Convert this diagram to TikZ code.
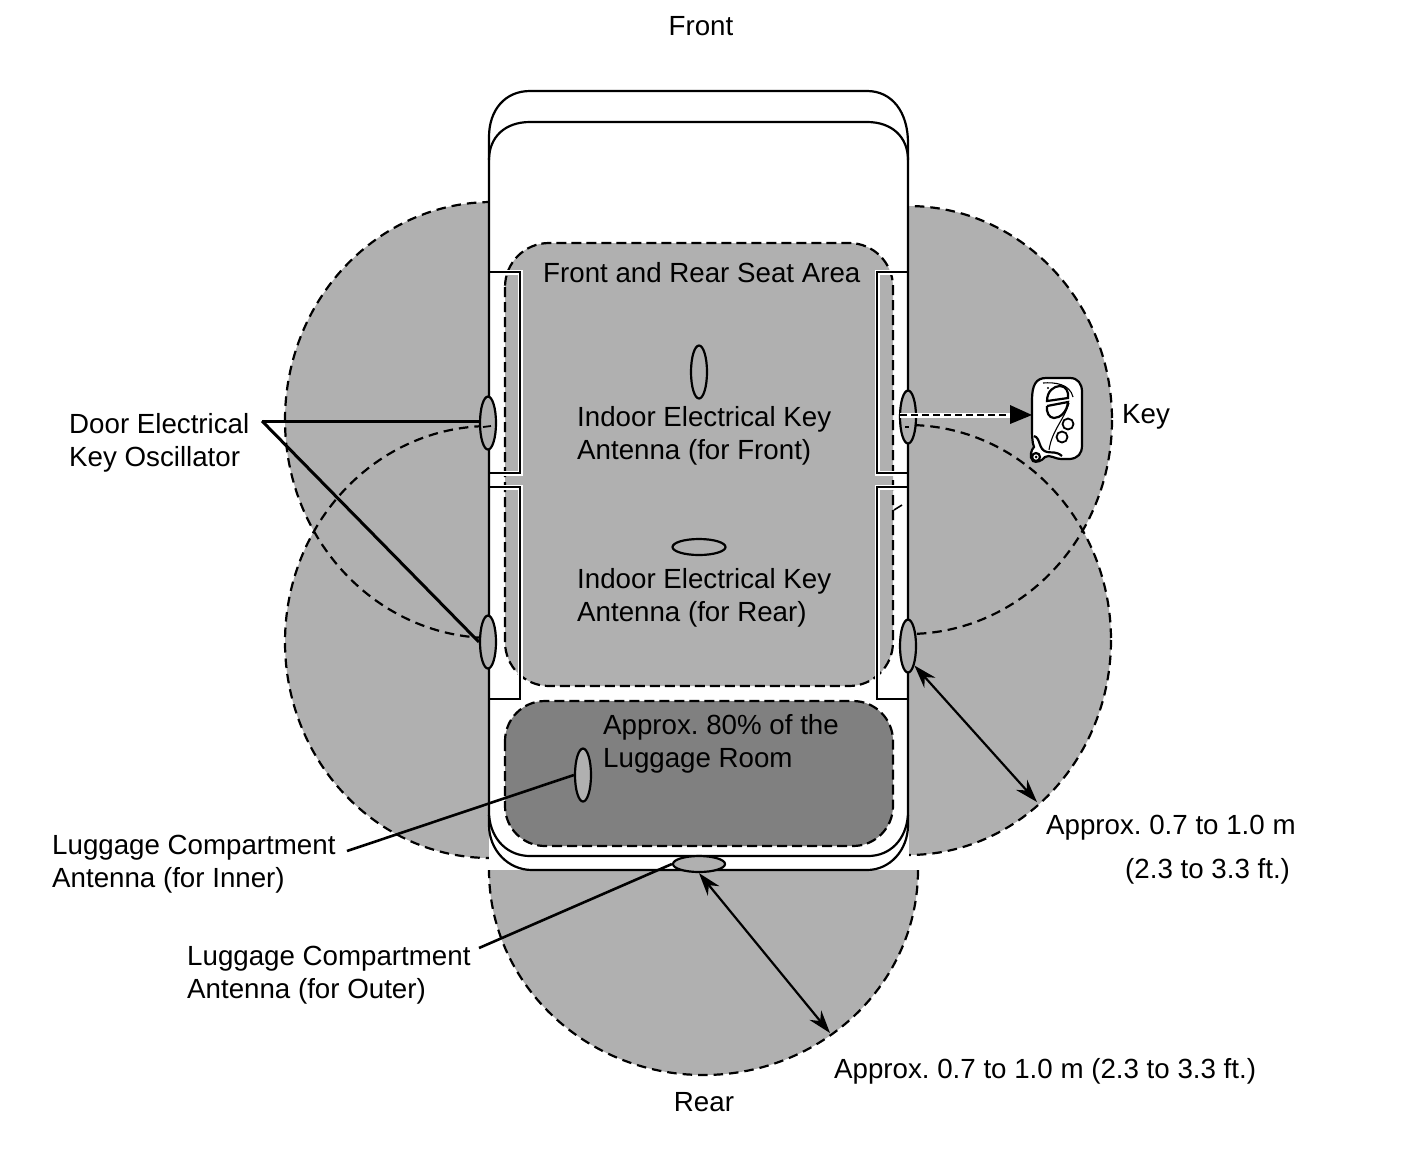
\documentclass[tikz,border=0pt]{standalone}
\usepackage{fontspec}
\setmainfont{Liberation Sans}
\usetikzlibrary{arrows.meta,shapes.geometric}
\definecolor{zone}{gray}{0.69}
\definecolor{deep}{gray}{0.5}
\tikzset{
  lobe/.style={fill=zone,draw=none},
  lobeedge/.style={draw=black,line width=2.2pt,dash pattern=on 9.5pt off 6pt},
  area/.style={draw=black,line width=2.2pt,dash pattern=on 10pt off 5pt},
  bodyline/.style={draw=black,line width=2.2pt},
  doorhalo/.style={draw=white,line width=5pt},
  doorline/.style={draw=black,line width=2.4pt},
  antenna/.style={shape=ellipse,draw=black,line width=2.2pt,fill=zone,inner sep=0pt,minimum width=#1},
  vert/.style={antenna=16pt,minimum height=53pt},
  horiz/.style={antenna=53pt,minimum height=16pt},
  lbl/.style={inner sep=0pt,anchor=west,align=left,font=\fontsize{27.7}{33}\selectfont\frenchspacing,text=black},
  clbl/.style={inner sep=0pt,anchor=center,font=\fontsize{27.7}{33}\selectfont,text=black},
  leader/.style={draw=black,line width=3pt},
  dimhalo/.style={draw=none,white,line width=0pt,
    {Stealth[length=29pt,width=22pt,white]}-{Stealth[length=29pt,width=22pt,white]}},
  dimline/.style={draw=black,line width=2.2pt,
    {Stealth[length=23pt,width=15pt,black]}-{Stealth[length=23pt,width=15pt,black]}},
  fob/.style={draw=black,line width=2.2pt,fill=white},
  fobthin/.style={draw=black,line width=1.1pt},
}
\begin{document}
\begin{tikzpicture}[x=1pt,y=-1pt]
\useasboundingbox (0,0) rectangle (1424,1160);
% gray reach zones
\fill[lobe] (492,420) ellipse [x radius=207,y radius=218];
\fill[lobe] (490,642) ellipse [x radius=205,y radius=216];
\fill[lobe] (908,420) ellipse [x radius=204,y radius=214];
\fill[lobe] (908,640) ellipse [x radius=203,y radius=215];
% dashed outlines of the zones
\begin{scope}
  \clip (0,0) rectangle (491,1160);
  \draw[lobeedge] (492,420) ellipse [x radius=207,y radius=218];
  \draw[lobeedge] (490,642) ellipse [x radius=205,y radius=216];
\end{scope}
\begin{scope}
  \clip (906,0) rectangle (1424,1160);
  \draw[lobeedge] (908,420) ellipse [x radius=204,y radius=214];
  \draw[lobeedge] (908,640) ellipse [x radius=203,y radius=215];
\end{scope}
% car body fill
\fill[white] (489,90) rectangle (909,870);
% rear zone
\fill[lobe] (489,870) -- (918,870) arc [start angle=0,end angle=180,x radius=214.5,y radius=205] -- cycle;
\draw[lobeedge] (918,870) arc [start angle=0,end angle=180,x radius=214.5,y radius=205];
% seat area and luggage area
\draw[area,fill=zone,rounded corners=44pt] (505,243) rectangle (893,686);
\draw[area,fill=deep,rounded corners=40pt] (505,701) rectangle (893,846);
% doors
\draw[doorhalo] (491,272) -- (520,272) -- (520,473) -- (491,473);
\draw[doorhalo] (491,487) -- (520,487) -- (520,699) -- (491,699);
\draw[doorhalo] (906,272) -- (877,272) -- (877,473) -- (906,473);
\draw[doorhalo] (906,487) -- (877,487) -- (877,699) -- (906,699);
\draw[doorline] (489,272) -- (520,272) -- (520,473) -- (489,473);
\draw[doorline] (489,487) -- (520,487) -- (520,699) -- (489,699);
\draw[doorline] (908,272) -- (877,272) -- (877,473) -- (908,473);
\draw[doorline] (908,487) -- (877,487) -- (877,699) -- (908,699);
\draw[line width=1.6pt] (894,510) -- (902,505);
% car body outline
\draw[bodyline] (489,825) -- (489,137) .. controls (489,110) and (505,91) .. (530,91) -- (867,91)
  .. controls (892,91) and (908,112) .. (908,143) -- (908,825)
  .. controls (908,850) and (890,870) .. (867,870) -- (532,870)
  .. controls (508,870) and (489,850) .. (489,825);
\draw[bodyline] (489,160) .. controls (489,137) and (505,122) .. (530,122) -- (867,122)
  .. controls (892,122) and (908,137) .. (908,160);
\draw[bodyline] (489,815) .. controls (491,840) and (508,856) .. (530,856) -- (868,856)
  .. controls (890,856) and (906,840) .. (908,815);
% antennas
\node[vert] (frontant) at (699,372) {};
\node[horiz] (rearant) at (699,547) {};
\node[vert] (lugin) at (583,775) {};
\node[horiz,minimum width=52pt] (lugout) at (699,864) {};
\node[vert] (doorfl) at (488,423) {};
\node[vert] (doorrl) at (488,642) {};
\node[vert] (doorfr) at (908,417) {};
\node[vert] (doorrr) at (908,646) {};
% dashes that continue through the door oscillators
\draw[line width=1.8pt] (483,427) -- (491,426);
\draw[line width=1.8pt] (905,427) -- (909,427);
% labels
\node[clbl] (front) at (701,26) {Front};
\node[clbl] (rear) at (704,1102) {Rear};
\node[lbl] (door) at (69,442.5) {Door Electrical\\Key Oscillator};
\node[lbl] (seat) at (543,273) {Front and Rear Seat Area};
\node[lbl] (ifront) at (577,436) {Indoor Electrical Key\\Antenna (for Front)};
\node[lbl] (irear) at (577,598) {Indoor Electrical Key\\Antenna (for Rear)};
\node[lbl] (room) at (603,744) {Approx. 80\% of the\\Luggage Room};
\node[lbl] (inner) at (52,864) {Luggage Compartment\\Antenna (for Inner)};
\node[lbl] (outer) at (187,975) {Luggage Compartment\\Antenna (for Outer)};
\node[lbl] (dimA) at (1046,828) {Approx. 0.7 to 1.0 m};
\node[lbl] (dimB) at (1125,871) {(2.3 to 3.3 ft.)};
\node[lbl] (dimC) at (834,1071) {Approx. 0.7 to 1.0 m (2.3 to 3.3 ft.)};
\node[lbl] (keylbl) at (1122,417) {Key};
% leaders
\coordinate (doorhub) at (262,421);
\coordinate (innerend) at (347,851);
\coordinate (outerend) at (479,948);
\draw[leader] (doorhub) -- (doorfl.west |- doorhub);
\draw[leader] (doorhub) -- (doorrl.west);
\draw[leader,line width=2.6pt] (innerend) -- (lugin.west);
\draw[leader,line width=2.6pt] (outerend) -- (lugout.west);
% dimension arrows
\coordinate (dimAend) at (1037,802);
\coordinate (dimCend) at (830,1033);
\path[dimhalo] (doorrr.south east) -- (dimAend);
\path[dimhalo] (lugout.south) -- (dimCend);
\draw[dimline] (doorrr.south east) -- (dimAend);
\draw[dimline] (lugout.south) -- (dimCend);
% key fob
\coordinate (keyin) at (1032,415);
\draw[white,line width=5pt] (doorfr.center) ++(-8,-2) -- (1012,415);
\draw[black,line width=2.4pt,dash pattern=on 7pt off 4pt] (doorfr.center) ++(-8,-2) -- (1012,415);
\fill[black] (keyin) -- (1010,405) -- (1010,424) -- cycle;
\draw[fob] (1032,400) .. controls (1032,385) and (1036,378) .. (1046,378) -- (1070,378)
  .. controls (1078,378) and (1082,384) .. (1082,392) -- (1082,445)
  .. controls (1082,454) and (1078,458) .. (1070,459) -- (1062,459)
  .. controls (1054,459) and (1050,454) .. (1045,457)
  .. controls (1042,461) and (1036,463) .. (1033,461)
  .. controls (1029,457) and (1031,450) .. (1034,447)
  .. controls (1032,442) and (1032,435) .. (1032,425) -- cycle;
\draw[fobthin] (1043,383) .. controls (1055,382) and (1070,384) .. (1073,397);
\fill (1048,388) circle [radius=1.2];
\draw[fob] (1036,457) circle [radius=4];
\fill (1036,457) circle [radius=1.5];
\draw[draw=black,line width=2.2pt] (1034,436) .. controls (1041,438) and (1038,450) .. (1047,452)
  .. controls (1052,453) and (1056,451) .. (1062,456);
\draw[fob] (1047,401) .. controls (1047,391) and (1054,386) .. (1060,386)
  .. controls (1066,386) and (1069,392) .. (1068,398) -- cycle;
\draw[fob] (1047,406) -- (1068,402) .. controls (1067,412) and (1060,418) .. (1054,418)
  .. controls (1049,418) and (1046,412) .. (1047,406);
\draw[fob,line width=1.8pt] (1068,424) circle [radius=5.5];
\draw[fob,line width=1.8pt] (1062,437) circle [radius=5.5];
\draw[fobthin] (1069,403) .. controls (1064,420) and (1052,430) .. (1049,450);
\end{tikzpicture}
\end{document}
